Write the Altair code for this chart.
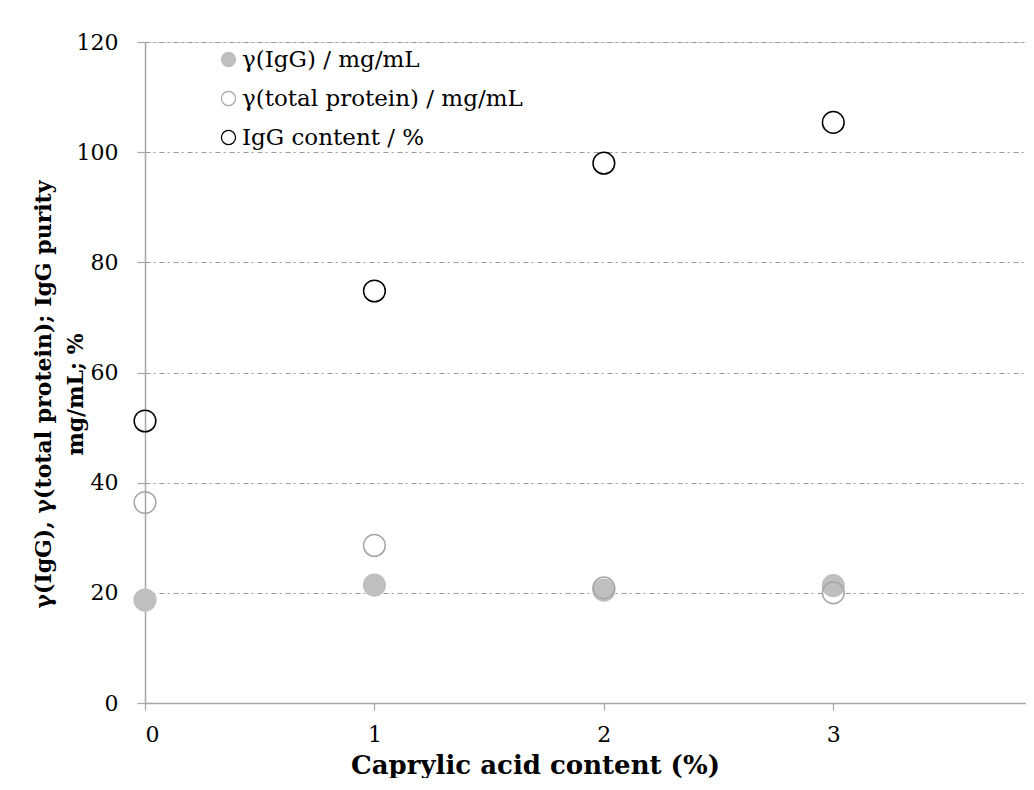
import altair as alt
import pandas as pd

# Data
acid = [0, 1, 2, 3]
igg_conc = [18.7, 21.4, 20.5, 21.3]
total_protein = [36.4, 28.6, 20.9, 20.0]
igg_content = [51.2, 74.8, 98.0, 105.4]
series_names = ["γ(IgG) / mg/mL", "γ(total protein) / mg/mL", "IgG content / %"]
fill_colors = ["#bfbfbf", "transparent", "transparent"]
stroke_colors = ["#bfbfbf", "#a6a6a6", "#000000"]

rows = []
for name, vals in zip(series_names, [igg_conc, total_protein, igg_content]):
    for a, v in zip(acid, vals):
        rows.append({"acid": a, "value": v, "series": name})
df = pd.DataFrame(rows)

FONT = "DejaVu Serif"
AXIS_GRAY = "#a6a6a6"

legend = alt.Legend(
    title=None,
    orient="none",
    legendX=72,
    legendY=6,
    padding=0,
    labelFont=FONT,
    labelFontSize=23,
    labelColor="#000000",
    labelLimit=0,
    symbolSize=200,
    symbolStrokeWidth=1.3,
    rowPadding=15,
    labelOffset=2,
)

chart = (
    alt.Chart(df)
    .mark_point(shape="circle", filled=True, size=470, strokeWidth=1.5, opacity=1)
    .encode(
        x=alt.X(
            "acid:Q",
            scale=alt.Scale(domain=[0, 3.84], nice=False, zero=True),
            axis=alt.Axis(
                values=[0, 1, 2, 3],
                format="d",
                grid=False,
                title="Caprylic acid content (%)",
                titleFont=FONT,
                titleFontSize=26,
                titleFontWeight="bold",
                titleColor="#000000",
                titleX=390,
                titleY=70,
                titleAlign="center",
                titleBaseline="alphabetic",
                labelFont=FONT,
                labelFontSize=22,
                labelColor="#000000",
                labelPadding=14,
                tickSize=7,
                tickColor=AXIS_GRAY,
                domainColor=AXIS_GRAY,
                domainWidth=1.5,
                tickWidth=1.2,
            ),
        ),
        y=alt.Y(
            "value:Q",
            scale=alt.Scale(domain=[0, 120], nice=False),
            axis=alt.Axis(
                values=[0, 20, 40, 60, 80, 100, 120],
                grid=True,
                gridDash=[5, 3, 2, 4],
                gridColor="#9a9a9a",
                gridWidth=1,
                title=["γ(IgG), γ(total protein); IgG purity", "mg/mL; %"],
                titleFont=FONT,
                titleFontSize=22,
                titleFontWeight="bold",
                titleColor="#000000",
                titleAngle=270,
                titleX=-102,
                titleY=352,
                titleAlign="center",
                titleBaseline="middle",
                titleLineHeight=32,
                labelFont=FONT,
                labelFontSize=22,
                labelColor="#000000",
                labelPadding=19,
                tickSize=8,
                tickColor=AXIS_GRAY,
                domainColor=AXIS_GRAY,
                domainWidth=1.5,
                tickWidth=1.2,
            ),
        ),
        fill=alt.Fill(
            "series:N",
            scale=alt.Scale(domain=series_names, range=fill_colors),
            sort=series_names,
            legend=legend,
        ),
        stroke=alt.Stroke(
            "series:N",
            scale=alt.Scale(domain=series_names, range=stroke_colors),
            sort=series_names,
            legend=legend,
        ),
    )
    .properties(
        width=881,
        height=661,
        autosize=alt.AutoSizeParams(type="none"),
        padding={"left": 137, "top": 34, "right": 0, "bottom": 75},
    )
    .configure_view(stroke=None)
    .configure(background="white")
)

chart.save("out.html", embed_options={"renderer": "svg", "actions": False})
